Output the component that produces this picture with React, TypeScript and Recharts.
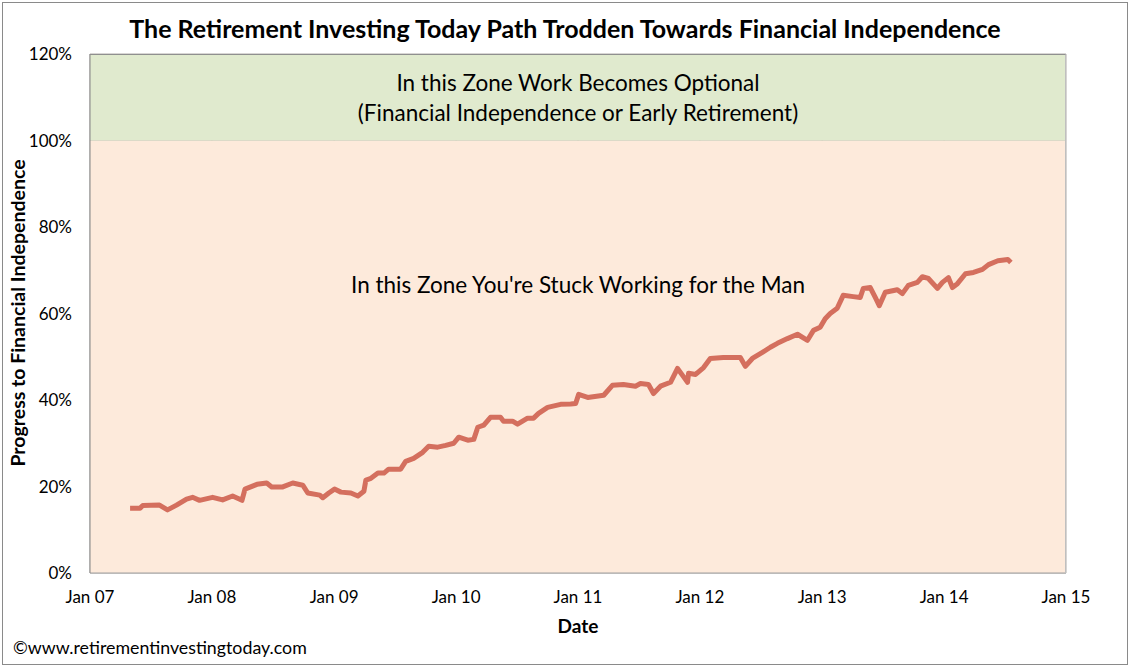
import { LineChart, Line, XAxis, YAxis, CartesianGrid, ReferenceArea } from 'recharts';

// weekly-ish readings of the path
const dates = [
  '2007-05-01', '2007-05-31', '2007-06-08', '2007-07-28', '2007-08-21', '2007-09-17', '2007-10-17', '2007-11-04',
  '2007-11-25', '2008-01-03', '2008-02-02', '2008-03-03', '2008-03-31', '2008-04-09', '2008-05-15', '2008-06-13',
  '2008-06-28', '2008-07-31', '2008-08-30', '2008-09-29', '2008-10-14', '2008-11-19', '2008-11-28', '2008-12-16',
  '2009-01-02', '2009-01-21', '2009-02-20', '2009-03-13', '2009-03-31', '2009-04-06', '2009-04-21', '2009-05-12',
  '2009-05-30', '2009-06-13', '2009-07-19', '2009-08-03', '2009-08-27', '2009-09-23', '2009-10-11', '2009-11-07',
  '2009-12-01', '2009-12-25', '2010-01-09', '2010-02-05', '2010-02-23', '2010-03-07', '2010-03-25', '2010-04-14',
  '2010-05-14', '2010-05-23', '2010-06-19', '2010-07-04', '2010-08-03', '2010-08-21', '2010-09-05', '2010-10-02',
  '2010-11-10', '2010-12-10', '2010-12-25', '2011-01-03', '2011-01-30', '2011-03-19', '2011-04-14', '2011-05-17',
  '2011-06-22', '2011-07-07', '2011-07-31', '2011-08-15', '2011-09-05', '2011-10-05', '2011-10-26', '2011-11-10',
  '2011-11-25', '2011-11-28', '2011-12-19', '2012-01-12', '2012-02-01', '2012-03-11', '2012-05-01', '2012-05-16',
  '2012-06-06', '2012-07-06', '2012-07-30', '2012-08-20', '2012-09-19', '2012-10-19', '2012-11-18', '2012-12-06',
  '2012-12-26', '2013-01-10', '2013-01-25', '2013-02-15', '2013-03-05', '2013-04-04', '2013-04-25', '2013-05-04',
  '2013-05-25', '2013-06-09', '2013-06-21', '2013-07-09', '2013-08-14', '2013-08-29', '2013-09-16', '2013-10-13',
  '2013-10-28', '2013-11-15', '2013-12-12', '2013-12-27', '2014-01-14', '2014-01-26', '2014-02-10', '2014-03-06',
  '2014-03-30', '2014-04-26', '2014-05-14', '2014-06-11', '2014-07-11', '2014-07-20',
];

const progress = [
  15.0, 15.0, 15.6, 15.7, 14.6, 15.7, 17.1, 17.5,
  16.8, 17.5, 16.9, 17.8, 16.8, 19.4, 20.5, 20.8,
  19.9, 19.9, 20.8, 20.3, 18.5, 18.0, 17.4, 18.5,
  19.4, 18.7, 18.5, 17.8, 18.9, 21.5, 21.9, 23.1,
  23.1, 24.0, 24.0, 25.8, 26.5, 27.9, 29.3, 29.1,
  29.5, 30.0, 31.4, 30.7, 30.9, 33.7, 34.2, 36.0,
  36.0, 35.1, 35.1, 34.4, 35.8, 35.8, 36.9, 38.3,
  39.0, 39.1, 39.2, 41.3, 40.6, 41.1, 43.4, 43.6,
  43.2, 43.8, 43.6, 41.5, 43.2, 44.1, 47.3, 45.7,
  44.1, 46.2, 45.9, 47.5, 49.6, 49.8, 49.8, 47.8,
  49.6, 51.0, 52.2, 53.1, 54.2, 55.2, 53.8, 56.1,
  56.8, 58.8, 60.0, 61.2, 64.2, 63.9, 63.7, 65.8,
  66.0, 63.7, 61.8, 64.9, 65.5, 64.6, 66.5, 67.2,
  68.5, 68.1, 65.8, 67.2, 68.3, 66.0, 66.9, 69.2,
  69.5, 70.2, 71.3, 72.2, 72.5, 71.8,
];

const tickYears = [2007, 2008, 2009, 2010, 2011, 2012, 2013, 2014, 2015];
const yTicks = [0, 20, 40, 60, 80, 100, 120];

const title = 'The Retirement Investing Today Path Trodden Towards Financial Independence';
const fiZone = ['In this Zone Work Becomes Optional', '(Financial Independence or Early Retirement)'];
const workZone = "In this Zone You're Stuck Working for the Man";

const data = dates.map((d, i) => ({ t: Date.parse(d + 'T00:00:00Z'), v: progress[i] }));
const xTicks = tickYears.map((y) => Date.UTC(y, 0, 1));

const font = 'Lato, "DejaVu Sans", sans-serif';

export default function App() {
  return (
    <div style={{ position: 'absolute', left: 0, top: 0, width: 1130, height: 667, background: '#fff', fontFamily: font }}>
      <div style={{ position: 'absolute', left: 2, top: 2, width: 1124, height: 661, border: '1px solid #8a8a8a' }} />
      <div style={{ position: 'absolute', left: 0, top: 12, width: 1130, textAlign: 'center', fontSize: 25, lineHeight: '32px', fontWeight: 700, color: '#000' }}>
        {title}
      </div>
      <div
        style={{
          position: 'absolute', left: 18, top: 313, width: 400, textAlign: 'center', fontSize: 19.5, fontWeight: 700,
          transform: 'translate(-50%, -50%) rotate(-90deg)', whiteSpace: 'nowrap', lineHeight: '24px',
        }}
      >
        Progress to Financial Independence
      </div>
      <div style={{ position: 'absolute', left: 478, top: 614, width: 200, textAlign: 'center', fontSize: 19, lineHeight: '24px', fontWeight: 700 }}>
        Date
      </div>
      <div style={{ position: 'absolute', left: 13, top: 636, fontSize: 17.8, lineHeight: '22px' }}>©www.retirementinvestingtoday.com</div>

      <LineChart
        width={1130}
        height={667}
        data={data}
        margin={{ top: 54, right: 64, bottom: 64, left: 30 }}
        style={{ position: 'absolute', left: 0, top: 0 }}
      >
        <ReferenceArea
          y1={0}
          y2={100}
          fill="#FDEADB"
          fillOpacity={1}
          stroke="none"
          label={(props: any) => {
            const vb = props.viewBox;
            return (
              <text x={vb.x + vb.width / 2} y={vb.y + 152} textAnchor="middle" fontSize={22.5} fontFamily={font} fill="#000">
                {workZone}
              </text>
            );
          }}
        />
        <ReferenceArea
          y1={100}
          y2={120}
          fill="#E0EACE"
          fillOpacity={1}
          stroke="none"
          label={(props: any) => {
            const vb = props.viewBox;
            return (
              <text x={vb.x + vb.width / 2} textAnchor="middle" fontSize={22.5} fontFamily={font} fill="#000">
                <tspan x={vb.x + vb.width / 2} y={vb.y + 37}>{fiZone[0]}</tspan>
                <tspan x={vb.x + vb.width / 2} y={vb.y + 67}>{fiZone[1]}</tspan>
              </text>
            );
          }}
        />
        <CartesianGrid stroke="#8f8a84" strokeOpacity={0.7} />
        <XAxis
          dataKey="t"
          type="number"
          scale="time"
          domain={[xTicks[0], xTicks[xTicks.length - 1]]}
          ticks={xTicks}
          tickFormatter={(v: number) => 'Jan ' + String(new Date(v).getUTCFullYear()).slice(2)}
          height={30}
          tickLine={false}
          tickSize={0}
          tickMargin={18}
          stroke="#a0a0a0"
          tick={{ fill: '#000', fontSize: 17, fontFamily: font }}
          allowDataOverflow
        />
        <YAxis
          type="number"
          domain={[0, 120]}
          ticks={yTicks}
          tickFormatter={(v: number) => v + '%'}
          width={60}
          tickLine={false}
          tickSize={0}
          tickMargin={18}
          stroke="#868686"
          tick={{ fill: '#000', fontSize: 17, fontFamily: font }}
          allowDataOverflow
        />
        <Line
          type="linear"
          dataKey="v"
          stroke="#D46F5E"
          strokeWidth={5}
          strokeLinejoin="round"
          dot={false}
          isAnimationActive={false}
        />
      </LineChart>
      <div style={{ position: 'absolute', left: 90, top: 54, width: 976, height: 519, borderTop: '1px solid #8f8f8f', borderRight: '1px solid #bfbfbf', pointerEvents: 'none', boxSizing: 'border-box' }} />
    </div>
  );
}
